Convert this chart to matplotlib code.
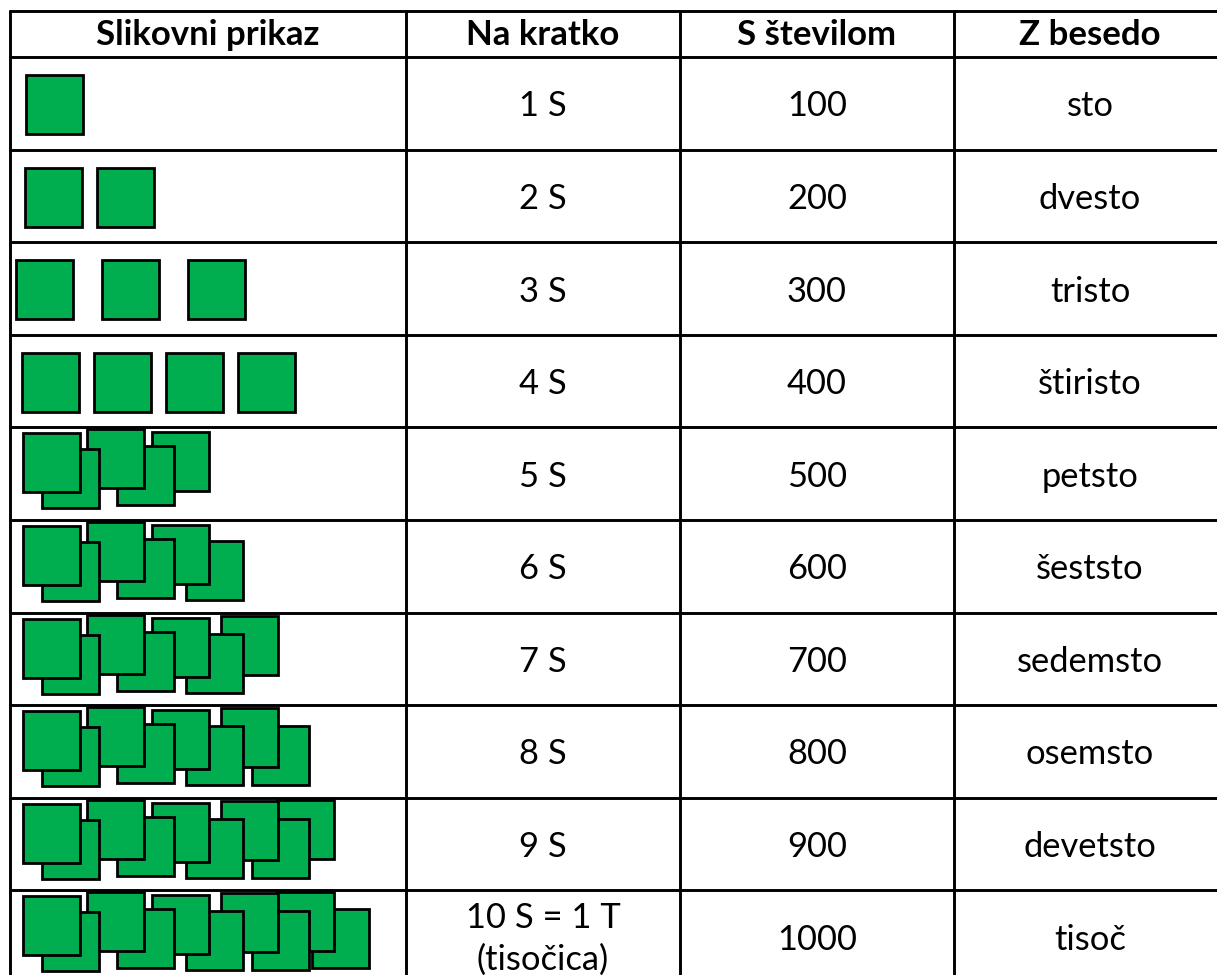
import matplotlib
matplotlib.use("Agg")
import matplotlib.pyplot as plt
from matplotlib.patches import Rectangle

# ---------------- data ----------------
headers = ["Slikovni prikaz", "Na kratko", "S številom", "Z besedo"]
square_counts = [1, 2, 3, 4, 5, 6, 7, 8, 9, 10]
short_forms = ["1 S", "2 S", "3 S", "4 S", "5 S", "6 S", "7 S", "8 S", "9 S",
               "10 S = 1 T\n(tisočica)"]
numbers = ["100", "200", "300", "400", "500", "600", "700", "800", "900", "1000"]
words = ["sto", "dvesto", "tristo", "štiristo", "petsto", "šeststo",
         "sedemsto", "osemsto", "devetsto", "tisoč"]

# ---------------- layout / style (pixels) ----------------
W, H = 1217, 975
TOP = 11
HEADER_BOTTOM = 57
ROW_H = 92.6
COL_LINES = [10, 406, 680, 954]
COL_CENTERS = [208, 543, 817, 1090]
GREEN = "#00AD4F"
SQ_W, SQ_H = 57, 59
# sparse arrangement (rows with up to 4 squares): start x, pitch
SPARSE = {1: (26, 0), 2: (25, 72), 3: (16, 86), 4: (22, 72)}
SPARSE_DY = 18
# overlapping pair arrangement (front / back squares), relative to row top
PAIR_TEMPLATE = [(23, 6), (42, 22), (87, 2), (117, 19), (152, 5),
                 (186, 21), (221, 3), (252, 21), (277, 2), (312, 19)]

FONT = ["Lato", "DejaVu Sans"]
BODY_SIZE = 24.8
HEAD_SIZE = 25

fig = plt.figure(figsize=(W / 100, H / 100), dpi=100)
ax = fig.add_axes([0, 0, 1, 1])
ax.set_xlim(0, W)
ax.set_ylim(H, 0)
ax.axis("off")

n_rows = len(square_counts)
row_tops = [HEADER_BOTTOM + i * ROW_H for i in range(n_rows)]

# table lines
hlines = [TOP, HEADER_BOTTOM] + [HEADER_BOTTOM + (i + 1) * ROW_H for i in range(n_rows - 1)]
ax.hlines(hlines, COL_LINES[0] - 1, W, colors="black", linewidth=2.1, zorder=50)
ax.vlines(COL_LINES, TOP - 1, H, colors="black", linewidth=2.1, zorder=50)

# header
for c, h in zip(COL_CENTERS, headers):
    ax.text(c, (TOP + HEADER_BOTTOM) / 2 + 11, h, ha="center", va="baseline",
            fontsize=HEAD_SIZE, fontweight="bold", family=FONT, zorder=60)

# rows
for i, n in enumerate(square_counts):
    top = row_tops[i]
    center = top + ROW_H / 2
    # pictogram squares
    if n <= 4:
        x0, pitch = SPARSE[n]
        positions = [(x0 + k * pitch, SPARSE_DY) for k in range(n)]
    else:
        positions = PAIR_TEMPLATE[:n]
    for k, (x, dy) in enumerate(positions):
        ax.add_patch(Rectangle((x, top + dy), SQ_W, SQ_H, facecolor=GREEN,
                               edgecolor="black", linewidth=2.0, zorder=20 - k))
    # texts
    txt = short_forms[i]
    if "\n" in txt:
        l1, l2 = txt.split("\n")
        ax.text(COL_CENTERS[1], center - 21 + 12, l1, ha="center", va="baseline",
                fontsize=BODY_SIZE, family=FONT, zorder=60)
        ax.text(COL_CENTERS[1], center + 21 + 12, l2, ha="center", va="baseline",
                fontsize=BODY_SIZE, family=FONT, zorder=60)
    else:
        ax.text(COL_CENTERS[1], center + 13, txt, ha="center", va="baseline",
                fontsize=BODY_SIZE, family=FONT, zorder=60)
    ax.text(COL_CENTERS[2], center + 13, numbers[i], ha="center", va="baseline",
            fontsize=BODY_SIZE, family=FONT, zorder=60)
    ax.text(COL_CENTERS[3], center + 13, words[i], ha="center", va="baseline",
            fontsize=BODY_SIZE, family=FONT, zorder=60)

fig.savefig("out.png", dpi=100, facecolor="white")
